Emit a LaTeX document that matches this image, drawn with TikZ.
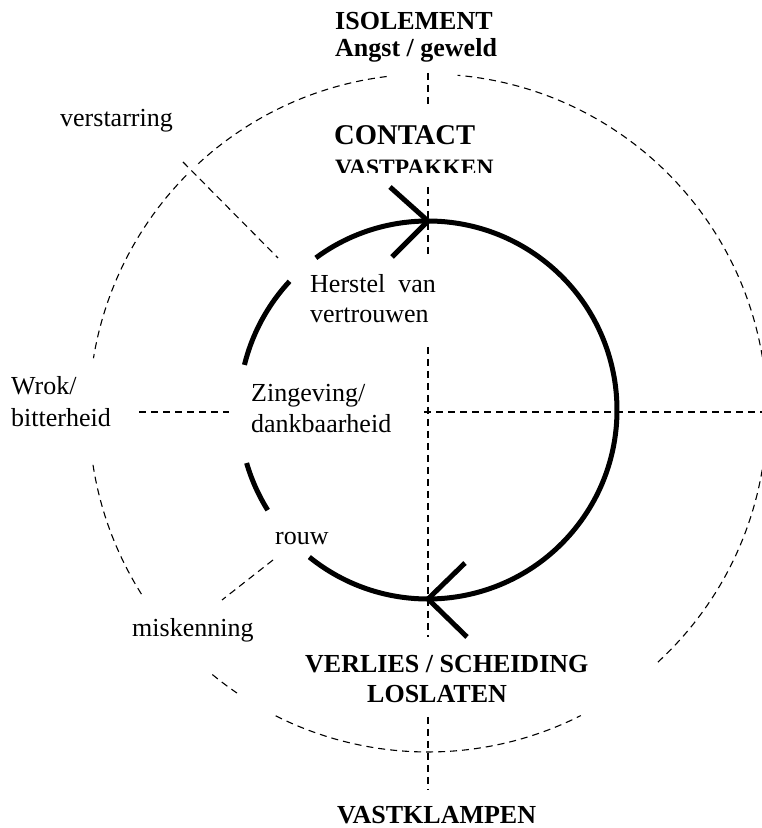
\documentclass[tikz,border=0pt]{standalone}
\usepackage{fontspec}
\setmainfont{Liberation Serif}
\begin{document}
\begin{tikzpicture}[x=1pt,y=1pt,
  dl/.style={line width=1.1pt,dash pattern=on 7pt off 5pt},
  thick circ/.style={line width=5pt},
  lbl/.style={inner sep=0pt,anchor=base west,font=\fontsize{26}{26}\selectfont},
  blbl/.style={inner sep=0pt,anchor=base west,font=\fontsize{26}{26}\selectfont\bfseries}]
\useasboundingbox (0,0) rectangle (762,828);
\clip (0,0) rectangle (762,828);
% centres
\coordinate (oc) at (428,415);
\coordinate (ic) at (428,418);
% outer dashed circle pieces
\draw[dl] (oc) ++(97:339) arc[start angle=97,end angle=133.5,radius=339];
\draw[dl] (oc) ++(135.5:339) arc[start angle=135.5,end angle=170.7,radius=339];
\draw[dl] (oc) ++(188.8:339) arc[start angle=188.8,end angle=212.8,radius=339];
\draw[dl] (oc) ++(230.5:339) arc[start angle=230.5,end angle=235.7,radius=339];
\draw[dl] (oc) ++(243.3:339) arc[start angle=243.3,end angle=296.8,radius=339];
\draw[dl] (oc) ++(312.7:339) arc[start angle=312.7,end angle=445,radius=339];
% dashed axes
\coordinate (v1a) at (428,755); \coordinate (v1b) at (428,721);
\coordinate (v2a) at (428,641); \coordinate (v2b) at (428,571);
\coordinate (v3a) at (428,481); \coordinate (v3b) at (428,191);
\coordinate (v4a) at (428,111); \coordinate (v4b) at (428,38);
\coordinate (h1a) at (424,416); \coordinate (h1b) at (762,416);
\coordinate (h2a) at (139,416); \coordinate (h2b) at (229,416);
\coordinate (d1a) at (183,666); \coordinate (d1b) at (278,570);
\coordinate (d2a) at (273,268); \coordinate (d2b) at (222,228);
\draw[dl] (v1a) -- (v1b);
\draw[dl] (v2a) -- (v2b);
\draw[dl] (v3a) -- (v3b);
\draw[dl] (v4a) -- (v4b);
\draw[dl] (h1a) -- (h1b);
\draw[dl] (h2a) -- (h2b);
\draw[dl] (d1a) -- (d1b);
\draw[dl] (d2a) -- (d2b);
% inner thick circle pieces
\draw[thick circ] (ic) ++(-128.9:189) arc[start angle=-128.9,end angle=126.4,radius=189];
\draw[thick circ] (ic) ++(137.1:189) arc[start angle=137.1,end angle=166.2,radius=189];
\draw[thick circ] (ic) ++(196.3:189) arc[start angle=196.3,end angle=212,radius=189];
% arrowheads
\coordinate (t1) at (428,607); \coordinate (t1a) at (390,641); \coordinate (t1b) at (392,571);
\coordinate (t2) at (428,229); \coordinate (t2a) at (465,265); \coordinate (t2b) at (467,191);
\draw[thick circ] (t1a) -- (t1) -- (t1b);
\draw[thick circ] (t2a) -- (t2) -- (t2b);
% texts
\node[blbl] (iso) at (335,798) {ISOLEMENT};
\begin{scope}
\clip (300,766) rectangle (560,790);
\node[blbl] (angst) at (335,771) {Angst / geweld};
\end{scope}
\node[lbl] (verst) at (60,701) {verstarring};
\node[blbl,font=\fontsize{28.6}{28.6}\selectfont\bfseries] (contact) at (334,683) {CONTACT};
\begin{scope}
\clip (300,655) rectangle (560,680);
\node[blbl,font=\fontsize{23.5}{23.5}\selectfont\bfseries] (vastp) at (335,652) {VASTPAKKEN};
\end{scope}
\node[lbl] (herstel) at (310,535) {Herstel\hspace{0.5em}van};
\node[lbl] (vertr) at (310,505) {vertrouwen};
\node[lbl] (wrok) at (11,433) {Wrok/};
\node[lbl] (bitter) at (11,401) {bitterheid};
\node[lbl] (zin) at (251,426) {Zingeving/};
\node[lbl] (dank) at (251,395) {dankbaarheid};
\node[lbl] (rouw) at (275,283) {rouw};
\node[lbl] (misk) at (132,191) {miskenning};
\node[blbl] (verlies) at (305,155) {VERLIES / SCHEIDING};
\node[blbl] (los) at (367,125) {LOSLATEN};
\node[blbl] (vastk) at (337,5) {VASTKLAMPEN};
\end{tikzpicture}
\end{document}
